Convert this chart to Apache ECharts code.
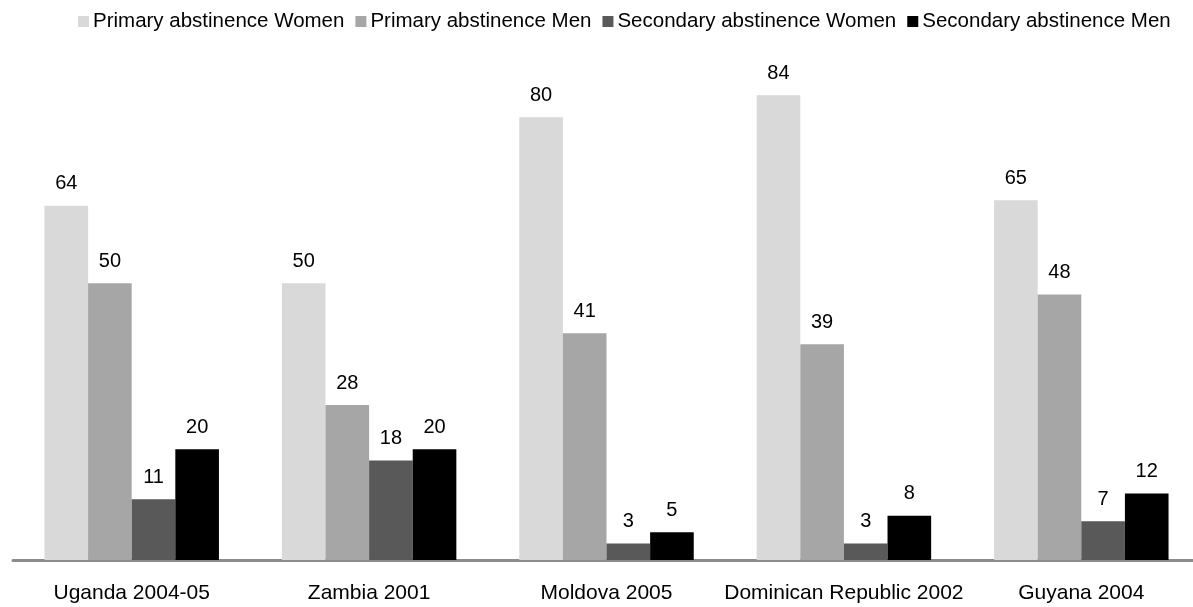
<!DOCTYPE html>
<html lang="en">
  <head>
    <meta charset="UTF-8" />
    <title>abstinence</title>
    <script src="https://cdn.jsdelivr.net/npm/echarts@6/dist/echarts.min.js"></script>
    <style>
      body {
        margin: 0;
        padding: 0;
        background: #fff;
      }

      #main {
        width: 1193px;
        height: 607px;
      }
    </style>
  </head>

  <body>
    <div id="main"></div>
    <script>
      const countries = [
        "Uganda 2004-05",
        "Zambia 2001",
        "Moldova 2005",
        "Dominican Republic 2002",
        "Guyana 2004",
      ];
      const seriesNames = [
        "Primary abstinence Women",
        "Primary abstinence Men",
        "Secondary abstinence Women",
        "Secondary abstinence Men",
      ];
      const primaryWomen = [64, 50, 80, 84, 65];
      const primaryMen = [50, 28, 41, 39, 48];
      const secondaryWomen = [11, 18, 3, 3, 7];
      const secondaryMen = [20, 20, 5, 8, 12];
      const colors = ["#d9d9d9", "#a6a6a6", "#595959", "#000000"];

      const font = "Liberation Sans, Arial, sans-serif";
      const chart = echarts.init(document.getElementById("main"));
      const values = [primaryWomen, primaryMen, secondaryWomen, secondaryMen];

      chart.setOption({
        animation: false,
        textStyle: { fontFamily: font },
        legend: {
          top: 6,
          left: 73,
          itemWidth: 11,
          itemHeight: 11,
          itemGap: 11,
          icon: "rect",
          textStyle: { fontSize: 20.5, color: "#000", padding: [0, 0, 0, -1] },
          data: seriesNames,
        },
        grid: {
          left: 13,
          width: 1187,
          top: 62,
          bottom: 47,
          outerBoundsMode: "none",
        },
        xAxis: {
          type: "category",
          data: countries,
          axisTick: { show: false },
          axisLine: { lineStyle: { color: "#8c8c8c", width: 3 } },
          axisLabel: { interval: 0, fontSize: 21, color: "#000", margin: 23 },
        },
        yAxis: {
          type: "value",
          min: 0,
          max: 90,
          show: false,
          splitLine: { show: false },
        },
        series: seriesNames.map((name, i) => ({
          name,
          type: "bar",
          data: values[i],
          barGap: "0%",
          barCategoryGap: "26.5%",
          itemStyle: { color: colors[i] },
          label: {
            show: true,
            position: "top",
            distance: 12,
            fontSize: 20,
            color: "#000",
          },
        })),
      });
    </script>
  </body>
</html>
